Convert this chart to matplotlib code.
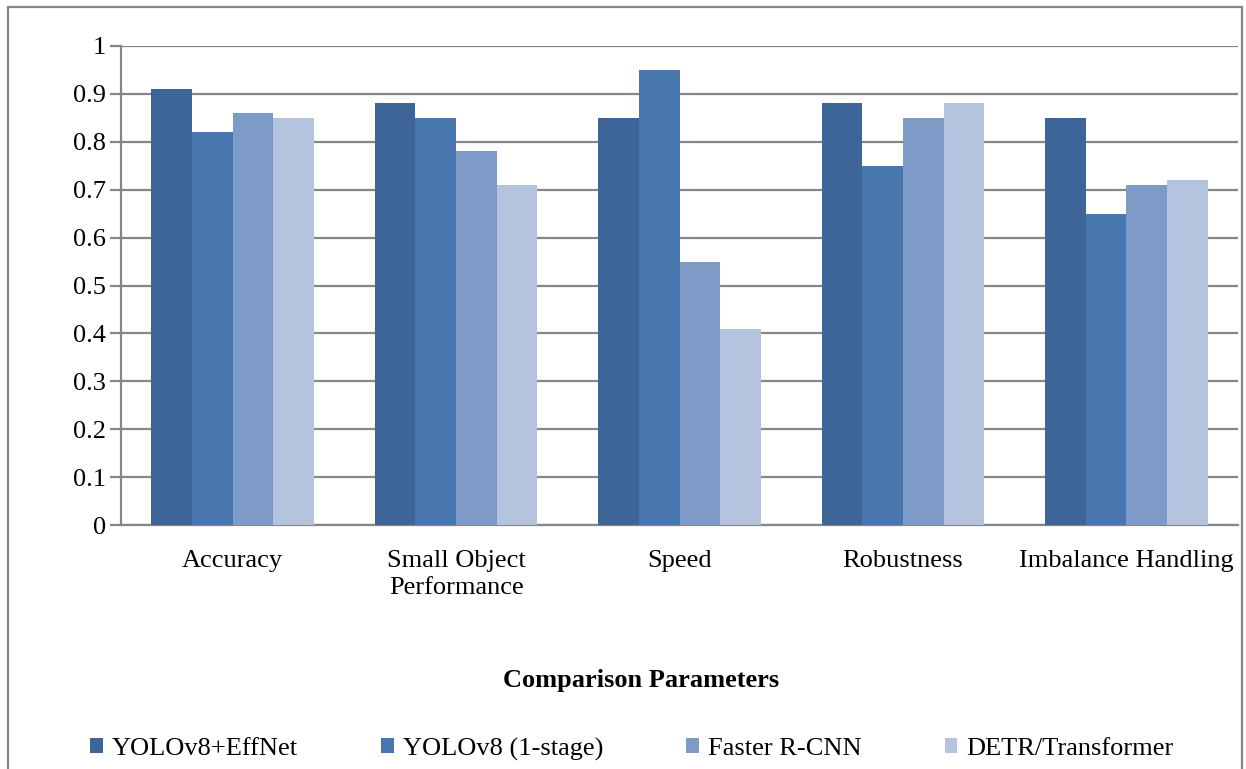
import numpy as np
import matplotlib.pyplot as plt
from matplotlib.patches import Rectangle, Patch

categories = ["Accuracy", "Small Object\nPerformance", "Speed", "Robustness", "Imbalance Handling"]
series_names = ["YOLOv8+EffNet", "YOLOv8 (1-stage)", "Faster R-CNN", "DETR/Transformer"]
yolo_effnet = [0.91, 0.88, 0.85, 0.88, 0.85]
yolo_1stage = [0.82, 0.85, 0.95, 0.75, 0.65]
faster_rcnn = [0.86, 0.78, 0.55, 0.85, 0.71]
detr = [0.85, 0.71, 0.41, 0.88, 0.72]
yticks = [0, 0.1, 0.2, 0.3, 0.4, 0.5, 0.6, 0.7, 0.8, 0.9, 1]

colors = ["#3D6597", "#4877B0", "#7E9BC8", "#B4C3DE"]
grid_c = "#868686"

plt.rcParams["font.family"] = ["Liberation Serif", "DejaVu Serif"]
plt.rcParams["font.size"] = 19

fig = plt.figure(figsize=(12.46, 7.69), dpi=100)
ax = fig.add_axes([121/1246, 1-525/769, (1238-121)/1246, (525-46)/769])

x = np.arange(len(categories))
w = 0.182
data = [yolo_effnet, yolo_1stage, faster_rcnn, detr]
for i, vals in enumerate(data):
    ax.bar(x + (i - 1.5) * w, vals, w, color=colors[i], label=series_names[i], zorder=3)

ax.set_xlim(-0.5, len(categories) - 0.5)
ax.set_ylim(0, 1)
ax.set_yticks(yticks)
ax.set_yticklabels([f"{t:g}" for t in yticks])
ax.set_xticks(x)
ax.set_xticklabels(categories, linespacing=1.3)
ax.yaxis.grid(True, color=grid_c, linewidth=1.6, zorder=0)
ax.tick_params(axis="y", length=8, width=1.6, color=grid_c, pad=3)
ax.tick_params(axis="x", length=0, pad=18)
for s in ["top", "right"]:
    ax.spines[s].set_visible(False)
for s in ["left", "bottom"]:
    ax.spines[s].set_color(grid_c)
    ax.spines[s].set_linewidth(1.6)

fig.text(641/1246, 1-680/769, "Comparison Parameters", ha="center", va="center", fontweight="bold")

handles = [Patch(facecolor=c, edgecolor="none") for c in colors]
fig.legend(handles, series_names, loc="center", bbox_to_anchor=(632/1246, 1-749/769), ncol=4,
           frameon=False, handlelength=0.47, handleheight=0.47, handletextpad=0.35,
           columnspacing=3.15, borderpad=0)

# outer chart border (bottom edge is cut off in the reference)
fig.patches.append(Rectangle((8/1246, -0.05), (1242-8)/1246, 1-7/769+0.05, transform=fig.transFigure,
                             fill=False, edgecolor=grid_c, linewidth=1.6))

plt.savefig("out.png", dpi=100)
